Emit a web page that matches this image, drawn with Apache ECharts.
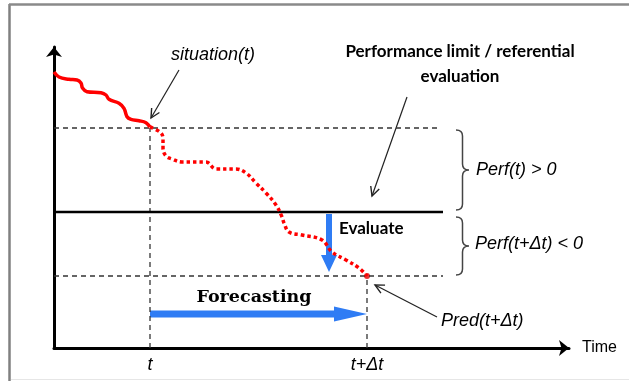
<!DOCTYPE html>
<html>
<head>
<meta charset="utf-8">
<script src="https://cdn.jsdelivr.net/npm/echarts@6/dist/echarts.min.js"></script>
<style>html,body{margin:0;padding:0;background:#fff}#c{width:629px;height:381px}</style>
</head>
<body>
<div id="c"></div>
<script>
// ---- data (x = time units, y = performance units) ----
var observedCurve = [[0,276],[5,271],[15,268.7],[23,268],[27,265],[28.5,260],[33,256.3],[47,255.3],[52,253],[55,248.7],[65,244.7],[70,239.7],[73,231.3],[77,228.7],[85,227.3],[92,225.3],[96,221]];
var forecastCurve = [[96,221],[107,215],[109,208],[109,200],[112,192],[118,189],[128,186],[152,186],[162,179],[182,179],[192,175],[202,165],[212,155],[222,143],[228,131],[230,125],[235,116],[248,113],[268,108],[278,96],[292,88],[305,80],[313,72]];
var predPoint = [[313,72]];
var tNow = 96, tFuture = 313;
var timeTickLabels = ['t', 't+\u0394t'];
var perfNow = 220, perfLimit = 136, perfPred = 72;
var refLineEnd = 389, upperDashEnd = 385, lowerDashEnd = 389;
var evaluateArrow = [[275,134,275,76]];
var forecastArrow = [[96,34,313,34]];
var thinArrows = [[125,278,97,230],[353,251,318,152],[383,31,321,63]];
var braces = [[402,218,138,415],[402,131,73,415]];
var labelTexts = ['situation(t)','Performance limit / referential','evaluation','Perf(t) > 0','Perf(t+\u0394t) < 0','Evaluate','Forecasting','Pred(t+\u0394t)'];
var labelAnchors = [[159,293],[406,296],[406,271],[422,178],[421,104],[285,119],[200,51],[387,27]];

var chart = echarts.init(document.getElementById('c'), null, {renderer:'canvas'});

function blockArrow(shaftW, headL, headW, color){
  return function(params, api){
    var p1 = api.coord([api.value(0), api.value(1)]);
    var p2 = api.coord([api.value(2), api.value(3)]);
    var dx=p2[0]-p1[0], dy=p2[1]-p1[1], len=Math.sqrt(dx*dx+dy*dy);
    var ux=dx/len, uy=dy/len, nx=-uy, ny=ux;
    var bx=p2[0]-ux*headL, by=p2[1]-uy*headL;
    var s=shaftW/2, h=headW/2;
    return {type:'polygon', shape:{points:[
      [p1[0]+nx*s,p1[1]+ny*s],[bx+nx*s,by+ny*s],[bx+nx*h,by+ny*h],p2,
      [bx-nx*h,by-ny*h],[bx-nx*s,by-ny*s],[p1[0]-nx*s,p1[1]-ny*s]]},
      style:{fill:color}};
  };
}
function thinArrow(params, api){
  var p1 = api.coord([api.value(0), api.value(1)]);
  var p2 = api.coord([api.value(2), api.value(3)]);
  var dx=p2[0]-p1[0], dy=p2[1]-p1[1], len=Math.sqrt(dx*dx+dy*dy);
  var ux=dx/len, uy=dy/len, nx=-uy, ny=ux, L=9, W=4.5;
  var a=[p2[0]-ux*L+nx*W, p2[1]-uy*L+ny*W], b=[p2[0]-ux*L-nx*W, p2[1]-uy*L-ny*W];
  return {type:'group', children:[
    {type:'line', shape:{x1:p1[0],y1:p1[1],x2:p2[0],y2:p2[1]}, style:{stroke:'#222',lineWidth:1.2}},
    {type:'polyline', shape:{points:[a,p2,b]}, style:{stroke:'#222',lineWidth:1.4,fill:null}}
  ]};
}
function brace(params, api){
  var top = api.coord([api.value(0), api.value(1)]);
  var bot = api.coord([api.value(0), api.value(2)]);
  var tip = api.coord([api.value(3), (api.value(1)+api.value(2))/2]);
  var x0=top[0], xt=tip[0], xm=(x0+xt)/2, yt=top[1], yb=bot[1], ym=tip[1], r=6;
  var d='M'+x0+' '+yt+' Q'+xm+' '+yt+' '+xm+' '+(yt+r)+' L'+xm+' '+(ym-r)+' Q'+xm+' '+ym+' '+xt+' '+ym+
        ' Q'+xm+' '+ym+' '+xm+' '+(ym+r)+' L'+xm+' '+(yb-r)+' Q'+xm+' '+yb+' '+x0+' '+yb;
  return {type:'path', shape:{pathData:d}, style:{stroke:'#444',lineWidth:1.5,fill:null}};
}

var italicFont = {fontFamily:'Liberation Sans', fontStyle:'italic', fontSize:18, color:'#000'};
var boldSans = {fontFamily:'Lato', fontWeight:'bold', fontSize:17, color:'#000'};
var labelStyles = [
  Object.assign({align:'center'}, italicFont),
  Object.assign({align:'center'}, boldSans),
  Object.assign({align:'center'}, boldSans),
  Object.assign({align:'left'}, italicFont),
  Object.assign({align:'left'}, italicFont),
  Object.assign({align:'left'}, boldSans),
  {align:'center', fontFamily:'DejaVu Serif', fontWeight:'bold', fontSize:17.5, color:'#000'},
  Object.assign({align:'left'}, italicFont)
];
var labelData = labelTexts.map(function(t,i){
  return {value:labelAnchors[i], label:Object.assign({show:true, position:'inside', formatter:t, verticalAlign:'middle', opacity:1}, labelStyles[i])};
});

var dashStyle = {color:'#333', width:1.3, type:[5,4]};
function hline(y, x1, x2){ return [[x1,y],[x2,y]]; }

chart.setOption({
  animation:false,
  backgroundColor:'#fff',
  graphic:[
    {type:'line', shape:{x1:9.5,y1:4,x2:9.5,y2:381}, style:{stroke:'#808080',lineWidth:2.5}},
    {type:'line', shape:{x1:9,y1:4.5,x2:629,y2:4.5}, style:{stroke:'#8a8a8a',lineWidth:2.5}},
    {type:'line', shape:{x1:11,y1:379.5,x2:629,y2:379.5}, style:{stroke:'#e6e6e6',lineWidth:1}}
  ],
  grid:{left:54, right:60, top:47, bottom:33},
  xAxis:{type:'value', min:0, max:515, splitLine:{show:false},
    name:'Time', nameLocation:'end', nameGap:13,
    nameTextStyle:{fontFamily:'Liberation Sans', fontSize:16, color:'#000', verticalAlign:'middle'},
    axisLine:{lineStyle:{color:'#000', width:3}, symbol:['none','arrow'], symbolSize:[12,10]},
    axisTick:{show:false},
    axisLabel:{customValues:[tNow,tFuture], margin:8, formatter:function(v){return v===tNow?timeTickLabels[0]:timeTickLabels[1];},
      fontFamily:'Liberation Sans', fontStyle:'italic', fontSize:18, color:'#000'}},
  yAxis:{type:'value', min:0, max:301, splitLine:{show:false},
    axisLine:{show:true, lineStyle:{color:'#000', width:3}, symbol:['none','arrow'], symbolSize:[12,10]},
    axisTick:{show:false}, axisLabel:{show:false}},
  series:[
    {type:'line', data:hline(perfNow,0,upperDashEnd), symbol:'none', lineStyle:dashStyle, silent:true},
    {type:'line', data:hline(perfPred,0,lowerDashEnd), symbol:'none', lineStyle:dashStyle, silent:true},
    {type:'line', data:[[tNow,0],[tNow,perfNow]], symbol:'none', lineStyle:dashStyle},
    {type:'line', data:[[tFuture,0],[tFuture,perfPred]], symbol:'none', lineStyle:dashStyle},
    {type:'line', data:hline(perfLimit,0,refLineEnd), symbol:'none', lineStyle:{color:'#000', width:2.5}},
    {type:'custom', data:thinArrows, renderItem:thinArrow, clip:false},
    {type:'custom', data:braces, renderItem:brace, clip:false},
    {type:'line', data:observedCurve, symbol:'none', smooth:0.4, lineStyle:{color:'#ff0000', width:3.5}},
    {type:'line', data:forecastCurve, symbol:'none', smooth:0.4, lineStyle:{color:'#ff0000', width:3.5, type:[3.5,3]}},
    {type:'scatter', data:predPoint, symbolSize:6, itemStyle:{color:'#e00000'}},
    {type:'custom', data:evaluateArrow, renderItem:blockArrow(6,17,16,'#2f7cf4'), clip:false},
    {type:'custom', data:forecastArrow, renderItem:blockArrow(7,33,15,'#2f7cf4'), clip:false},
    {type:'scatter', data:labelData, symbolSize:0, clip:false, z:10}
  ]
});
</script>
</body>
</html>
